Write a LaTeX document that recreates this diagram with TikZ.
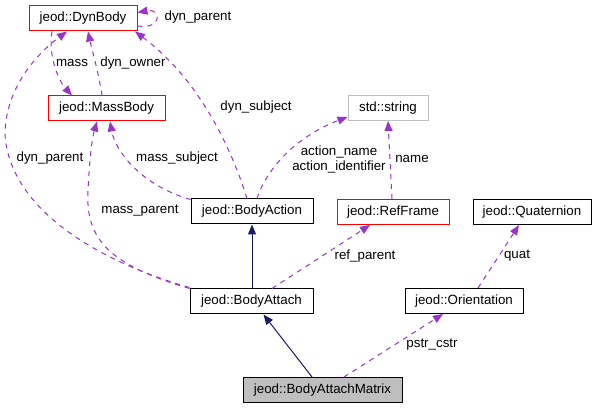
\documentclass[tikz,border=0pt]{standalone}
\usepackage{fontspec}
\setmainfont{Liberation Sans}
\usetikzlibrary{arrows.meta,calc}
\definecolor{edgepurple}{HTML}{9A32CD}
\definecolor{navyline}{HTML}{191970}
\definecolor{grayborder}{HTML}{BFBFBF}
\begin{document}
\begin{tikzpicture}[x=0.75pt,y=-0.75pt,
  cls/.style={draw=black, fill=white, inner sep=0pt, minimum height=18.75pt, font=\fontsize{10}{12}\selectfont, line width=0.75pt},
  redcls/.style={cls, draw=red},
  graycls/.style={cls, draw=grayborder},
  curcls/.style={cls, fill=grayborder},
  uses/.style={draw=edgepurple, line width=0.75pt, dash pattern=on 3.75pt off 3.75pt, -{Triangle[length=7.5pt,width=6pt,fill=edgepurple]}},
  inherits/.style={draw=navyline, line width=0.75pt, -{Triangle[length=7.5pt,width=6pt,fill=navyline]}},
  lbl/.style={font=\fontsize{10}{11.5}\selectfont, inner sep=0pt, align=center}]
\useasboundingbox (0,0) rectangle (596,409);

% nodes
\node[redcls, minimum width=81pt] (dyn) at (83,18.5) {jeod::DynBody};
\node[redcls, minimum width=87.75pt] (mass) at (106.5,108.5) {jeod::MassBody};
\node[graycls, minimum width=60pt] (str) at (388,108) {std::string};
\node[cls, minimum width=91.5pt] (act) at (252,211.5) {jeod::BodyAction};
\node[redcls, minimum width=84pt] (ref) at (393,212) {jeod::RefFrame};
\node[cls, minimum width=88.5pt] (quat) at (532,212) {jeod::Quaternion};
\node[cls, minimum width=92.25pt] (att) at (251.5,301.5) {jeod::BodyAttach};
\node[cls, minimum width=88.5pt] (ori) at (464,301) {jeod::Orientation};
\node[curcls, minimum width=119.25pt] (mat) at (322.5,390) {jeod::BodyAttachMatrix};

% inheritance
\draw[inherits] (att.north -| act.south) -- (act.south);
\draw[inherits] ($(mat.north)+(-10.5,0)$) -- ($(att.south)+(12,0)$);

% usage edges
\draw[uses] ($(dyn.east)+(0,7.5)$) .. controls (162,30) and (162,8) .. ($(dyn.east)+(0,-6)$);
\draw[uses] ($(dyn.south)+(-31,0)$) .. controls (48,55) and (58,80) .. ($(mass.north)+(-34.5,0)$);
\draw[uses] ($(mass.north)+(-4.5,0)$) .. controls (98,70) and (92,50) .. ($(dyn.south)+(5,0)$);
\draw[uses] ($(act.north)+(-5,0)$) .. controls (232,150) and (200,80) .. ($(dyn.south)+(52,0)$);
\draw[uses] ($(act.north west)+(0,1)$) .. controls (140,185) and (115,150) .. ($(mass.south)+(3.5,0)$);
\draw[uses] ($(act.north)+(5,0)$) .. controls (268,165) and (300,135) .. ($(str.south west)+(0,-4)$);
\draw[uses] ($(ref.north)+(-1,0)$) -- ($(str.south)+(0,0)$);
\draw[uses] ($(att.north west)+(0,-1)$) .. controls (100,262) and (10,210) .. (5,135)
   .. controls (5,90) and (35,55) .. ($(dyn.south)+(-16,0)$);
\draw[uses] ($(att.north west)+(0,0)$) .. controls (110,265) and (85,240) .. (88,190)
   .. controls (90,150) and (93,135) .. ($(mass.south)+(-9.5,0)$);
\draw[uses] ($(att.north)+(20.5,0)$) -- ($(ref.south)+(-23,0)$);
\draw[uses] ($(ori.north)+(14,0)$) -- ($(quat.south)+(-13,0)$);
\draw[uses] ($(mat.north)+(21.5,0)$) -- ($(ori.south)+(-21,0)$);

% labels
\node[lbl] (l1) at (198,17.5) {dyn\_parent};
\node[lbl] (l2) at (72,63) {mass};
\node[lbl] (l3) at (133,63) {dyn\_owner};
\node[lbl] (l4) at (256,107) {dyn\_subject};
\node[lbl] (l5) at (177,158) {mass\_subject};
\node[lbl] (l6) at (339,159.5) {action\_name\\action\_identifier};
\node[lbl] (l7) at (412,159) {name};
\node[lbl] (l8) at (50,158) {dyn\_parent};
\node[lbl] (l9) at (140,211) {mass\_parent};
\node[lbl] (l10) at (365,256) {ref\_parent};
\node[lbl] (l11) at (517,256) {quat};
\node[lbl] (l12) at (432,345) {pstr\_cstr};
\end{tikzpicture}
\end{document}
